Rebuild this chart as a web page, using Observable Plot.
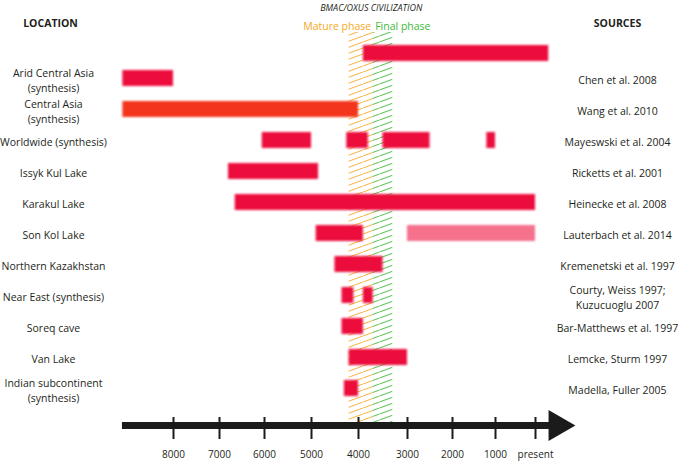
<!DOCTYPE html>
<html><head><meta charset="utf-8">
<script src="https://cdn.jsdelivr.net/npm/d3@7"></script>
<script src="https://cdn.jsdelivr.net/npm/@observablehq/plot@0.6"></script>
<style>body{margin:0;background:#fff;}</style>
</head><body><div id="chart"></div>
<script>
// ---- data ----
const locations = ["Arid Central Asia","Central Asia","Worldwide","Issyk Kul Lake","Karakul Lake","Son Kol Lake","Northern Kazakhstan","Near East","Soreq cave","Van Lake","Indian subcontinent"];
const locationLabels = ["Arid Central Asia\n(synthesis)","Central Asia\n(synthesis)","Worldwide (synthesis)","Issyk Kul Lake","Karakul Lake","Son Kol Lake","Northern Kazakhstan","Near East (synthesis)","Soreq cave","Van Lake","Indian subcontinent\n(synthesis)"];
const sourceLabels = ["Chen et al. 2008","Wang et al. 2010","Mayeswski et al. 2004","Ricketts et al. 2001","Heinecke et al. 2008","Lauterbach et al. 2014","Kremenetski et al. 1997","Courty, Weiss 1997;\nKuzucuoglu 2007","Bar-Matthews et al. 1997","Lemcke, Sturm 1997","Madella, Fuller 2005"];

const barLocation = ["Arid Central Asia","Arid Central Asia","Central Asia","Worldwide","Worldwide","Worldwide","Worldwide","Issyk Kul Lake","Karakul Lake","Son Kol Lake","Son Kol Lake","Northern Kazakhstan","Near East","Near East","Soreq cave","Van Lake","Indian subcontinent"];
const barStart = [3900, 9100, 9100, 6050, 4250, 3500, 1200, 6800, 6650, 4900, 3000, 4500, 4350, 3900, 4350, 4200, 4300];
const barEnd   = [-330, 8000, 4000, 5000, 3800, 2500, 1000, 4850, 0, 3900, 0, 3500, 4100, 3700, 3900, 3000, 4000];
const barShade = ["strong","strong","orange","strong","strong","strong","strong","strong","strong","strong","light","strong","strong","strong","strong","strong","strong"];
const barTier  = ["upper","","","","","","","","","","","","","","","",""];

const phaseName  = ["Mature phase","Final phase"];
const phaseStart = [4200, 3700];
const phaseEnd   = [3700, 3300];
const title = "BMAC/OXUS CIVILIZATION";

const tickValues = [8000,7000,6000,5000,4000,3000,2000,1000,0];
const tickPixels = [173,219,264,311,358,407,452,495,535];
const axisStart = 9110, axisEnd = -400, axisTip = -550;

// ---- build ----
const bars = barLocation.map((loc,i)=>({loc, start:barStart[i], end:barEnd[i], shade:barShade[i], tier:barTier[i]}));
const phases = phaseName.map((name,i)=>({name, start:phaseStart[i], end:phaseEnd[i]}));
const ORANGE = "#f7a823", GREEN = "#3dbb3a", INK = "#231f20", AXIS = "#1b1b1b";
const BAR_COLORS = ["#ec0a3c","#f2361a","#f5718c"];
const lastLoc = locations[locations.length-1];
// hand-drawn time axis: piecewise-linear between the printed ticks
const timeAxis = d3.scaleLinear().domain(tickValues).range(tickPixels);

const chart = Plot.plot({
  width: 685, height: 462,
  marginTop: 32, marginBottom: 35, marginLeft: 0, marginRight: 0,
  style: {fontFamily: "'Open Sans', sans-serif", fontSize: "10.5px", color: INK, background: "#fff", overflow: "visible"},
  x: {type: "linear", transform: v => timeAxis(v), domain: [0, 685], range: [0, 685], axis: null},
  y: {type: "band", domain: locations, range: [60.3, 405.7], paddingInner: 0.48, paddingOuter: 0.24, axis: null},
  color: {domain: ["strong","orange","light"], range: BAR_COLORS},
  marks: [
    Plot.rect(phases.filter(d=>d.name==="Mature phase"), {x1:"start", x2:"end", fill:"url(#hatchO)", insetBottom: 4}),
    Plot.rect(phases.filter(d=>d.name==="Final phase"), {x1:"start", x2:"end", fill:"url(#hatchG)", insetBottom: 4}),
    Plot.barX(bars.filter(d=>d.tier===""), {x1:"start", x2:"end", y:"loc", fill:"shade", ariaLabel:"bars"}),
    Plot.barX(bars.filter(d=>d.tier==="upper"), {x1:"start", x2:"end", y:"loc", fill:"shade", dy:-25, ariaLabel:"bars"}),
    Plot.text(locations, {y: d=>d, text: (d,i)=>locationLabels[i], frameAnchor:"left", dx:53, dy:1, textAnchor:"middle", lineHeight:1.4, fill: INK}),
    Plot.text(locations, {y: d=>d, text: (d,i)=>sourceLabels[i], frameAnchor:"right", dx:-68, dy:1, textAnchor:"middle", lineHeight:1.4, fill: INK}),
    Plot.text(["LOCATION"], {text: d=>d, frameAnchor:"top-left", dx:50, dy:-13, fontWeight:"bold", textAnchor:"middle", fill: INK}),
    Plot.text(["SOURCES"], {text: d=>d, frameAnchor:"top-right", dx:-68, dy:-13, fontWeight:"bold", textAnchor:"middle", fill: INK}),
    Plot.text([title], {text: d=>d, x: ()=>phaseStart[1], dx:-2, frameAnchor:"top", dy:-28, fontStyle:"italic", fontSize: 9, fill: INK}),
    Plot.text(phases.filter(d=>d.name==="Mature phase"), {text:"name", x:"end", frameAnchor:"top", dy:-10, dx:-2, textAnchor:"end", fill: ORANGE, fontSize: 10.5}),
    Plot.text(phases.filter(d=>d.name==="Final phase"), {text:"name", x:"start", frameAnchor:"top", dy:-10, dx:2, textAnchor:"start", fill: GREEN, fontSize: 10.5}),
    Plot.ruleY([lastLoc], {y: d=>d, x1: ()=>axisStart, x2: ()=>axisEnd, dy: 37, stroke: AXIS, strokeWidth: 7}),
    Plot.dot([lastLoc], {y: d=>d, x: ()=>axisTip, dy: 37, symbol: "triangle", rotate: 90, r: 11.5, fill: AXIS, stroke: "none"}),
    Plot.axisX(tickValues, {anchor: "bottom", label: null, tickSize: 22, tickPadding: 11, dy: -10, stroke: AXIS, strokeWidth: 2, fill: INK, fontSize: 10,
      tickFormat: d => d === 0 ? "present" : String(d)})
  ]
});

document.getElementById("chart").appendChild(chart);
const svg = d3.select(chart);
const defs = svg.insert("defs", ":first-child");
function hatch(id, color) {
  const w = 16.5, h = 6;
  const p = defs.append("pattern").attr("id", id).attr("patternUnits","userSpaceOnUse")
    .attr("width", w).attr("height", h);
  for (const off of [-w, 0, w]) {
    p.append("line").attr("x1", off).attr("y1", h).attr("x2", off + w).attr("y2", 0)
      .attr("stroke", color).attr("stroke-width", 0.9);
  }
}
hatch("hatchO", ORANGE);
hatch("hatchG", GREEN);
defs.append("filter").attr("id","soft").attr("filterUnits","userSpaceOnUse")
  .attr("x", 0).attr("y", 0).attr("width", 685).attr("height", 462)
  .append("feGaussianBlur").attr("stdDeviation", 1.1);
svg.selectAll("rect").filter(function(){ return BAR_COLORS.includes(this.getAttribute("fill")); })
  .attr("filter", "url(#soft)");
</script>
</body></html>
